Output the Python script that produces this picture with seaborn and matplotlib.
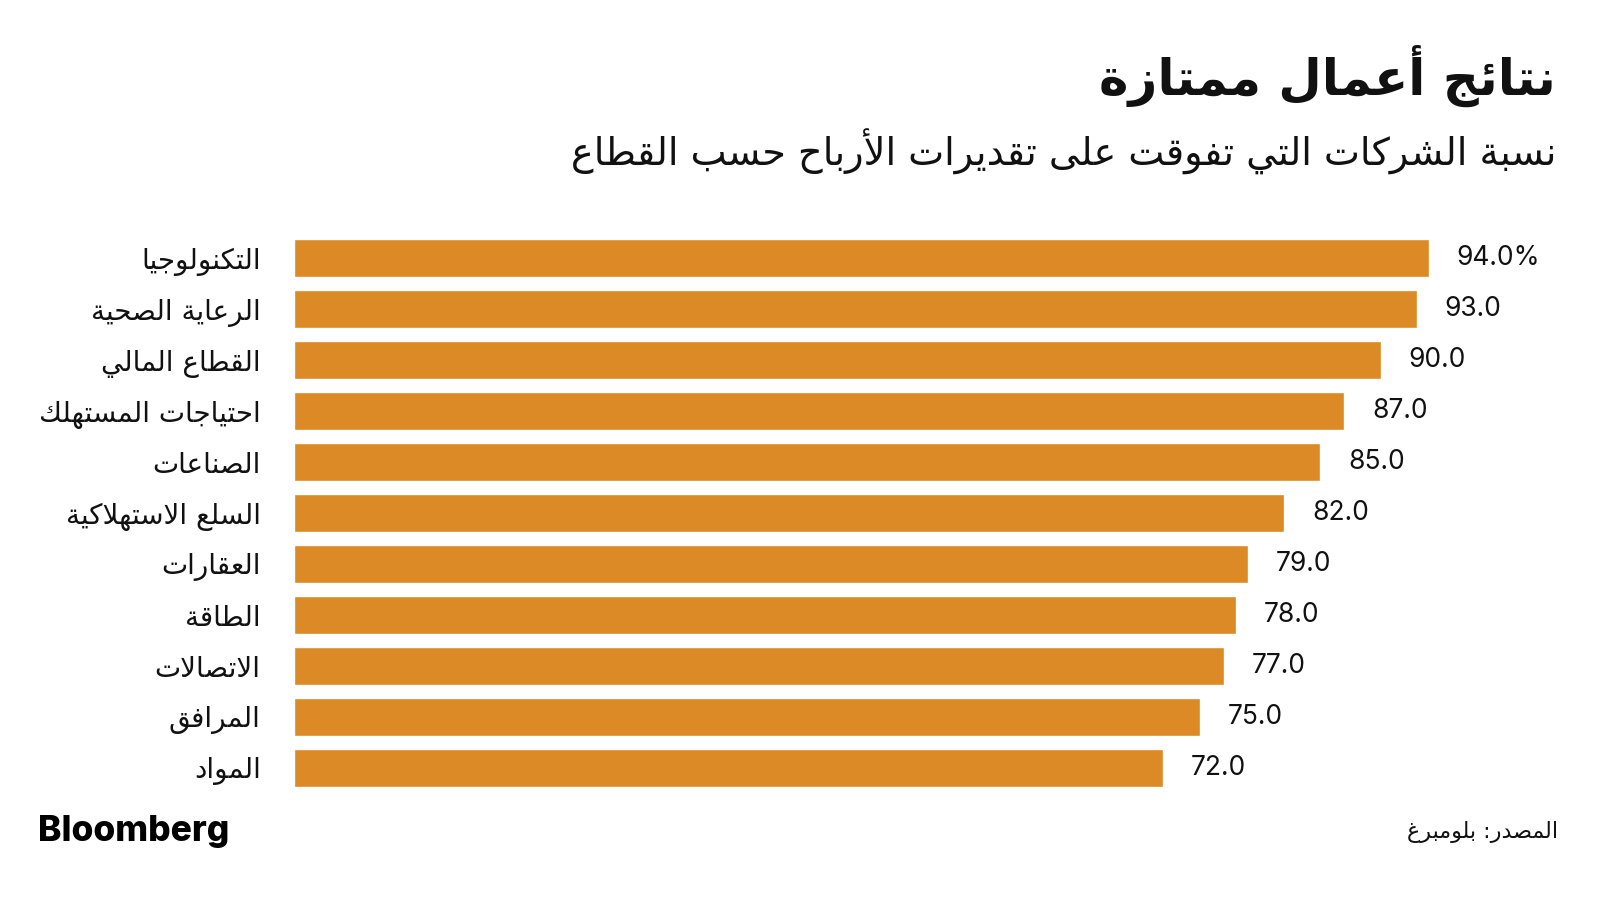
import matplotlib
matplotlib.use("Agg")
import matplotlib.pyplot as plt
import seaborn as sns
import pandas as pd

# ---------------- data ----------------
title = "نتائج أعمال ممتازة"
subtitle = "نسبة الشركات التي تفوقت على تقديرات الأرباح حسب القطاع"
source = "المصدر: بلومبرغ"
brand = "Bloomberg"

sectors = [
    "التكنولوجيا",
    "الرعاية الصحية",
    "القطاع المالي",
    "احتياجات المستهلك",
    "الصناعات",
    "السلع الاستهلاكية",
    "العقارات",
    "الطاقة",
    "الاتصالات",
    "المرافق",
    "المواد",
]
values = [94.0, 93.0, 90.0, 87.0, 85.0, 82.0, 79.0, 78.0, 77.0, 75.0, 72.0]
value_labels = ["94.0%", "93.0", "90.0", "87.0", "85.0", "82.0", "79.0", "78.0", "77.0", "75.0", "72.0"]

# ---------------- minimal Arabic shaping (contextual forms + RTL) ----------------
_DUAL = {'ئ': 0xFE89, 'ب': 0xFE8F, 'ت': 0xFE95, 'ث': 0xFE99, 'ج': 0xFE9D, 'ح': 0xFEA1,
         'خ': 0xFEA5, 'س': 0xFEB1, 'ش': 0xFEB5, 'ص': 0xFEB9, 'ض': 0xFEBD, 'ط': 0xFEC1,
         'ظ': 0xFEC5, 'ع': 0xFEC9, 'غ': 0xFECD, 'ف': 0xFED1, 'ق': 0xFED5, 'ك': 0xFED9,
         'ل': 0xFEDD, 'م': 0xFEE1, 'ن': 0xFEE5, 'ه': 0xFEE9, 'ي': 0xFEF1}
_RIGHT = {'آ': 0xFE81, 'أ': 0xFE83, 'ؤ': 0xFE85, 'إ': 0xFE87, 'ا': 0xFE8D, 'ة': 0xFE93,
          'د': 0xFEA9, 'ذ': 0xFEAB, 'ر': 0xFEAD, 'ز': 0xFEAF, 'و': 0xFEED, 'ى': 0xFEEF}
_LAMALEF = {'آ': 0xFEF5, 'أ': 0xFEF7, 'إ': 0xFEF9, 'ا': 0xFEFB}


def shape(text):
    chars = []
    i = 0
    while i < len(text):
        c = text[i]
        if c == 'ل' and i + 1 < len(text) and text[i + 1] in _LAMALEF:
            chars.append(('LA', text[i + 1]))
            i += 2
        else:
            chars.append(c)
            i += 1

    def joins_next(c):
        return (not isinstance(c, tuple)) and c in _DUAL

    def joins_prev(c):
        return isinstance(c, tuple) or c in _DUAL or c in _RIGHT

    out = []
    n = len(chars)
    for k, c in enumerate(chars):
        prev = chars[k - 1] if k > 0 else None
        nxt = chars[k + 1] if k + 1 < n else None
        jp = prev is not None and joins_next(prev) and joins_prev(c)
        jn = nxt is not None and joins_next(c) and joins_prev(nxt)
        if isinstance(c, tuple):
            out.append(chr(_LAMALEF[c[1]] + (1 if jp else 0)))
        elif c in _DUAL:
            base = _DUAL[c]
            if jp and jn:
                out.append(chr(base + 3))
            elif jn:
                out.append(chr(base + 2))
            elif jp:
                out.append(chr(base + 1))
            else:
                out.append(chr(base))
        elif c in _RIGHT:
            out.append(chr(_RIGHT[c] + (1 if jp else 0)))
        else:
            out.append(c)
    return ''.join(reversed(out))


# ---------------- styling ----------------
sns.set_theme(style="white")
plt.rcParams['font.family'] = ['DejaVu Sans']

BAR = "#DC8A25"
TXT = "#111111"
AR = ['DejaVu Sans']
NUM = ['Inter', 'DejaVu Sans']

df = pd.DataFrame({"sector": sectors, "value": values})

fig = plt.figure(figsize=(16, 9), dpi=100)
fig.patch.set_facecolor("white")
ax = fig.add_axes([294 / 1600, (900 - 787) / 900, (1429 - 294) / 1600, (787 - 239) / 900])

sns.barplot(data=df, x="value", y="sector", order=sectors, color=BAR,
            saturation=1, width=0.75, ax=ax, orient="h")

ax.set_xlim(0, max(values))
ax.set_ylim(len(sectors) - 1 + 0.375, -0.375)
ax.set_xlabel("")
ax.set_ylabel("")
ax.set_xticks([])
ax.set_yticks(range(len(sectors)))
ax.set_yticklabels([shape(s) for s in sectors], fontsize=20, color=TXT, family=AR)
ax.tick_params(axis="y", length=0, pad=24)
for sp in ax.spines.values():
    sp.set_visible(False)

ax.bar_label(ax.containers[0], labels=value_labels, padding=20, fontsize=19,
             color=TXT, family=NUM, clip_on=False)

# titles
fig.text(1556 / 1600, 1 - 76 / 900, shape(title), ha="right", va="center",
         fontsize=36, fontweight="bold", color=TXT, family=AR)
fig.text(1556 / 1600, 1 - 152 / 900, shape(subtitle), ha="right", va="center",
         fontsize=27.5, color=TXT, family=AR)

# footer
fig.text(38 / 1600, 1 - 832 / 900, brand, ha="left", va="center",
         fontsize=25.5, fontweight="heavy", color="#000000", family=['Inter', 'Liberation Sans', 'DejaVu Sans'])
fig.text(1558 / 1600, 1 - 832 / 900, shape(source), ha="right", va="center",
         fontsize=16, color=TXT, family=AR)

fig.savefig("out.png", dpi=100, facecolor="white")
